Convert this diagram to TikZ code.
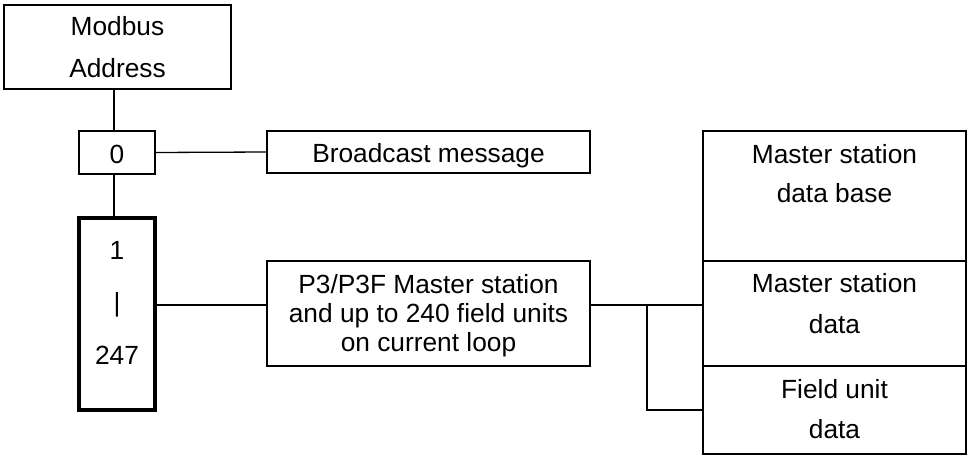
\documentclass[tikz,border=0pt]{standalone}
\usepackage{fontspec}
\setmainfont{Liberation Sans}
\begin{document}
\begin{tikzpicture}[x=1pt,y=-1pt,
  box/.style={draw=black,line width=2.2pt,rectangle,inner sep=0pt,outer sep=0pt},
  thickbox/.style={draw=black,line width=3.6pt,rectangle,inner sep=0pt,outer sep=0pt},
  txt/.style={anchor=base,inner sep=0pt,font=\fontsize{26.3}{30}\selectfont},
  thin/.style={line width=1.3pt},
  mid/.style={line width=2pt}]
\useasboundingbox (0,0) rectangle (968,455);
% boxes
\node[box,minimum width=227pt,minimum height=84pt] (modbus) at (117.5,47) {};
\node[box,minimum width=76pt,minimum height=43pt] (zero) at (117,152.5) {};
\node[thickbox,minimum width=76pt,minimum height=192pt] (range) at (117,314) {};
\node[box,minimum width=323pt,minimum height=42pt] (bcast) at (428.5,152) {};
\node[box,minimum width=323pt,minimum height=105pt] (p3) at (428.5,313.5) {};
\node[box,minimum width=263pt,minimum height=130pt] (db) at (834.5,196) {};
\node[box,minimum width=263pt,minimum height=105pt] (msd) at (834.5,313.5) {};
\node[box,minimum width=263pt,minimum height=88pt] (fud) at (834.5,410) {};
% texts
\node[txt] (tm1) at (117.5,35) {Modbus};
\node[txt] (tm2) at (117.5,77) {Address};
\node[txt] (tz) at (117,163) {0};
\node[txt] (tr1) at (117,259) {1};
\node[txt] (tr2) at (117,311.5) {|};
\node[txt] (tr3) at (117,364) {247};
\node[txt] (tb) at (428.5,162) {Broadcast message};
\node[txt] (tp1) at (428.5,293) {P3/P3F Master station};
\node[txt] (tp2) at (428.5,322) {and up to 240 field units};
\node[txt] (tp3) at (428.5,351) {on current loop};
\node[txt] (td1) at (834.5,163) {Master station};
\node[txt] (td2) at (834.5,202) {data base};
\node[txt] (ts1) at (834.5,292) {Master station};
\node[txt] (ts2) at (834.5,333) {data};
\node[txt] (tf1) at (834.5,398) {Field unit};
\node[txt] (tf2) at (834.5,438) {data};
% connectors
\coordinate (vx) at (114,0);
\coordinate (hy) at (0,305);
\coordinate (br) at (647,305);
\draw[thin] (vx |- modbus.south) -- (vx |- zero.north);
\draw[thin] (vx |- zero.south) -- (vx |- range.north);
\draw[thin] (zero.east) -- (bcast.west);
\draw[mid] (range.east |- hy) -- (p3.west |- hy);
\draw[mid] (p3.east |- hy) -- (msd.west |- hy);
\draw[mid] (br) |- (fud.west);
\end{tikzpicture}
\end{document}
